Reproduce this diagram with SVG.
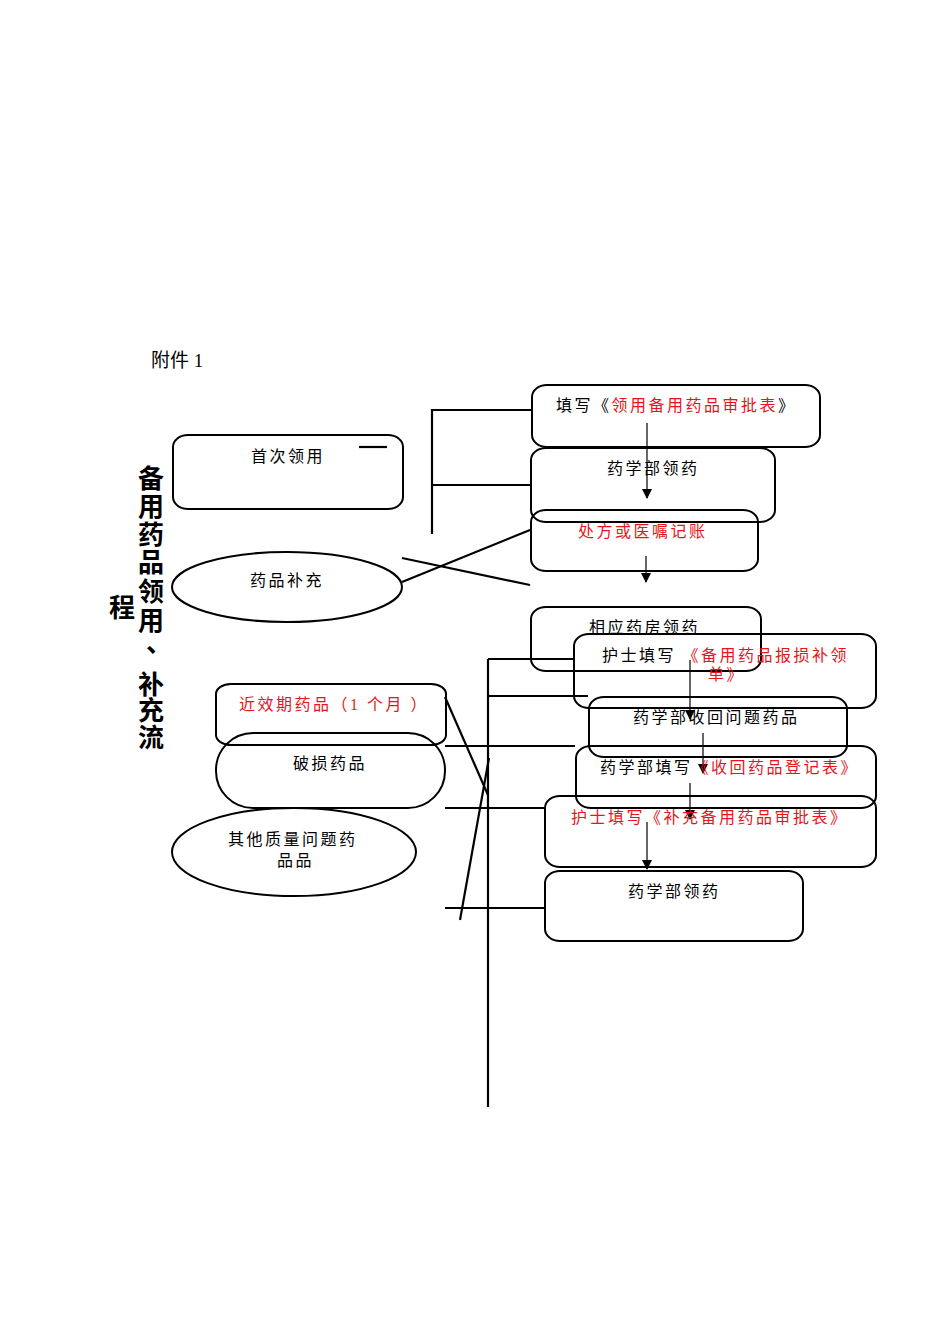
<svg xmlns="http://www.w3.org/2000/svg" width="950" height="1344" viewBox="0 0 950 1344">
<style>
.b{fill:none;stroke:#000;stroke-width:2}
.c{fill:none;stroke:#000;stroke-width:2.2}
.a{fill:none;stroke:#000;stroke-width:1.2;marker-end:url(#ah)}
.t{font-family:"Liberation Serif","Noto Sans CJK SC",serif;font-size:16px;letter-spacing:2.5px;fill:#000}
.r{fill:#e8141b}
.v{font-family:"Liberation Serif","Noto Sans CJK SC",serif;font-size:26px;font-weight:bold;fill:#000}
</style>
<defs>
<marker id="ah" markerWidth="10" markerHeight="10" refX="9" refY="5" orient="auto" markerUnits="userSpaceOnUse">
<path d="M0,0 L10,5 L0,10 Z" fill="#000"/>
</marker>
</defs>
<rect width="950" height="1344" fill="#fff"/>
<text class="t" x="151" y="367" style="font-size:19px;letter-spacing:0">附件 1</text>
<g id="title">
<text class="v" x="138" y="488">备</text>
<text class="v" x="138" y="516">用</text>
<text class="v" x="138" y="544">药</text>
<text class="v" x="138" y="572">品</text>
<text class="v" x="138" y="601">领</text>
<text class="v" x="138" y="630">用</text>
<text class="v" x="146" y="652">、</text>
<text class="v" x="138" y="694">补</text>
<text class="v" x="138" y="720">充</text>
<text class="v" x="138" y="747">流</text>
<text class="v" x="109" y="617">程</text>
</g>
<g id="connectors">
<line class="c" x1="359" y1="447" x2="387" y2="447"/>
<polyline class="c" points="532,410 432,410 432,534"/>
<line class="c" x1="432" y1="485" x2="532" y2="485"/>
<line class="c" x1="402" y1="558" x2="530" y2="585"/>
<line class="c" x1="402" y1="582" x2="530" y2="530"/>
<line class="c" x1="488" y1="659" x2="488" y2="1107"/>
<line class="c" x1="488" y1="659" x2="574" y2="659"/>
<line class="c" x1="488" y1="696" x2="588" y2="696"/>
<line class="c" x1="445" y1="746" x2="575" y2="746"/>
<line class="c" x1="445" y1="808" x2="545" y2="808"/>
<line class="c" x1="445" y1="908" x2="545" y2="908"/>
<line class="c" x1="445" y1="697" x2="488" y2="795"/>
<line class="c" x1="460" y1="920" x2="489" y2="758"/>
<line class="a" x1="647" y1="423" x2="647" y2="498"/>
<line class="a" x1="646" y1="556" x2="646" y2="582"/>
<line class="a" x1="690" y1="660" x2="690" y2="719"/>
<line class="a" x1="703" y1="733" x2="703" y2="773"/>
<line class="a" x1="690" y1="783" x2="690" y2="819"/>
<line class="a" x1="647" y1="822" x2="647" y2="869"/>
</g>
<g id="n-first">
<rect class="b" x="173" y="435" width="230" height="74" rx="15" ry="12"/>
<text class="t" x="251" y="462">首次领用</text>
</g>
<g id="n-supply">
<ellipse class="b" cx="287" cy="587" rx="115" ry="35"/>
<text class="t" x="250" y="586">药品补充</text>
</g>
<g id="n-fill1">
<rect class="b" x="532" y="385" width="288" height="62" rx="15" ry="12"/>
<text class="t" x="556" y="411">填写《<tspan class="r">领用备用药品审批表</tspan>》</text>
</g>
<g id="n-get1">
<rect class="b" x="531" y="448" width="244" height="74" rx="15" ry="12"/>
<text class="t" x="607" y="474">药学部领药</text>
</g>
<g id="n-rx">
<rect class="b" x="531" y="510" width="227" height="61" rx="15" ry="12"/>
<text class="t r" x="578" y="537">处方或医嘱记账</text>
</g>
<g id="n-pharm">
<rect class="b" x="531" y="607" width="230" height="64" rx="15" ry="12"/>
<text class="t" x="589" y="633">相应药房领药</text>
</g>
<g id="n-nurse1">
<rect class="b" x="574" y="634" width="302" height="74" rx="15" ry="12"/>
<text class="t" x="602" y="661">护士填写<tspan class="r"> 《备用药品报损补领</tspan></text>
<text class="t r" x="708" y="680">单》</text>
</g>
<g id="n-recall">
<rect class="b" x="589" y="697" width="258" height="60" rx="15" ry="12"/>
<text class="t" x="633" y="723">药学部收回问题药品</text>
</g>
<g id="n-log">
<rect class="b" x="576" y="746" width="300" height="62" rx="15" ry="12"/>
<text class="t" x="600" y="773">药学部填写<tspan class="r">《收回药品登记表》</tspan></text>
</g>
<g id="n-nurse2">
<rect class="b" x="545" y="796" width="331" height="71" rx="15" ry="12"/>
<text class="t r" x="571" y="823">护士填写《补充备用药品审批表》</text>
</g>
<g id="n-get2">
<rect class="b" x="545" y="871" width="258" height="70" rx="15" ry="12"/>
<text class="t" x="628" y="897">药学部领药</text>
</g>
<g id="n-expiry">
<rect class="b" x="216" y="684" width="230" height="61" rx="15" ry="10"/>
<text class="t r" x="239" y="710">近效期药品（1 个月 ）</text>
</g>
<g id="n-broken">
<rect class="b" x="216" y="733" width="229" height="75" rx="37" ry="37"/>
<text class="t" x="293" y="769">破损药品</text>
</g>
<g id="n-other">
<ellipse class="b" cx="294" cy="852" rx="122" ry="44"/>
<text class="t" x="228" y="845">其他质量问题药</text>
<text class="t" x="277" y="866">品品</text>
</g>
</svg>
